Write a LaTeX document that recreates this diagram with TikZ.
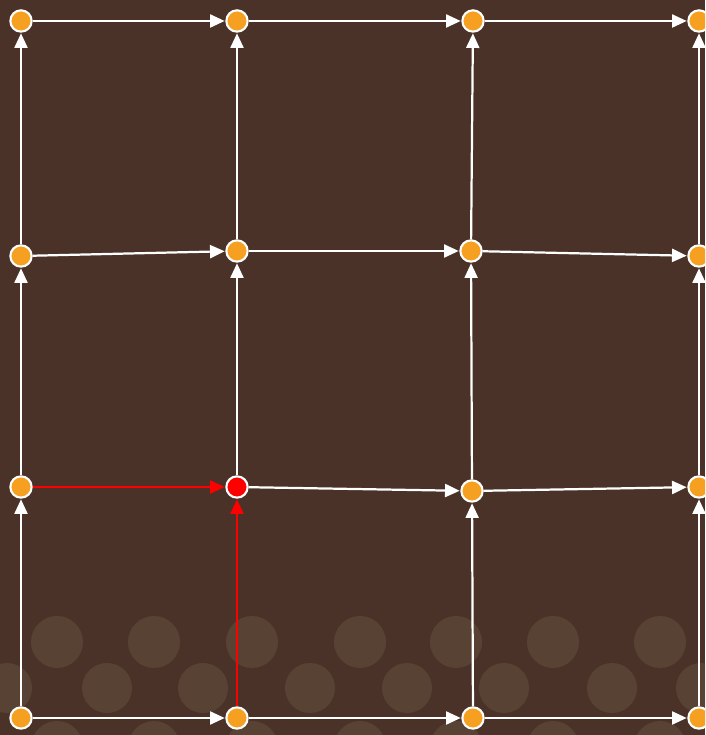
\documentclass[tikz,border=0pt]{standalone}
\usepackage{xcolor}
\usepackage{tikz}
\usetikzlibrary{arrows.meta}
\definecolor{bgbrown}{HTML}{4A3228}
\definecolor{bokeh}{HTML}{5E4839}
\definecolor{vertex}{HTML}{F6A021}
\definecolor{hot}{HTML}{FF0000}

\begin{document}
\begin{tikzpicture}[x=0.03cm, y=0.03cm,
    vtx/.style={circle, fill=vertex, draw=white, line width=1.8pt, minimum size=0.64cm, inner sep=0pt},
    edge/.style={line width=1.9pt, draw=white, -{Triangle[length=4.4mm, width=3.9mm]}, shorten >=0.5pt},
    hotedge/.style={edge, draw=hot}]
  \useasboundingbox (0,0) rectangle (705,735);
  \clip (0,0) rectangle (705,735);
  \fill[bgbrown] (0,0) rectangle (705,735);

  % --- faded circles along the bottom ---
  \foreach \x in {57, 154, 252, 360, 456, 553, 660} {
    \fill[bokeh, opacity=0.75] (\x,93) circle (26);
    \fill[bokeh, opacity=0.75] (\x,-12) circle (26);
  }
  \foreach \x in {7, 107, 203, 310, 407, 504, 612, 701} {
    \fill[bokeh, opacity=0.75] (\x,47) circle (25);
  }

  % --- grid of vertices (row/column) ---
  \foreach \n/\x/\y in {v11/21/714, v12/237/714, v13/473/714, v14/699/714,
                        v21/21/479, v22/237/484, v23/471/484, v24/699/479,
                        v31/21/248, v33/472/244, v34/699/248,
                        v41/21/17, v42/237/17, v43/473/17, v44/699/17} {
    \node[vtx] (\n) at (\x,\y) {};
  }
  \node[vtx, fill=hot] (v32) at (237,248) {};

  % --- rightward edges ---
  \foreach \a/\b in {v11/v12, v12/v13, v13/v14, v21/v22, v22/v23, v23/v24,
                     v32/v33, v33/v34, v41/v42, v42/v43, v43/v44} {
    \draw[edge] (\a) -- (\b);
  }
  % --- upward edges ---
  \foreach \a/\b in {v21/v11, v22/v12, v23/v13, v24/v14, v31/v21, v32/v22,
                     v33/v23, v34/v24, v41/v31, v43/v33, v44/v34} {
    \draw[edge] (\a) -- (\b);
  }

  % Edges into the marked vertex
  \draw[hotedge] (v31) -- (v32);
  \draw[hotedge] (v42) -- (v32);
\end{tikzpicture}
\end{document}
